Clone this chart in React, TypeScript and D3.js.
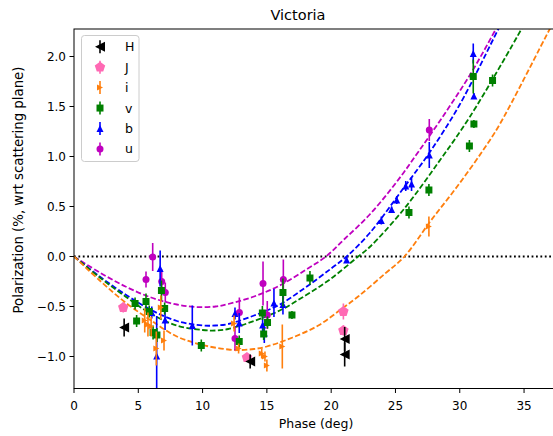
import * as d3 from "d3";

// observations per filter: phase (deg), polarization (%), error
const hX = [3.9, 13.7, 21.05, 21.05];
const hY = [-0.71, -1.05, -0.825, -0.98];
const hE = [0.09, 0.07, 0.12, 0.12];

const jX = [3.83, 13.45, 20.95, 20.95];
const jY = [-0.51, -1.01, -0.55, -0.74];
const jE = [0.05, 0.04, 0.08, 0.05];

const iX = [5.5, 5.75, 6.0, 6.4, 6.75, 7.0, 12.45, 12.8, 14.6, 14.85, 15.0, 16.2, 27.6];
const iY = [-0.64, -0.68, -0.7, -0.92, -0.51, -0.84, -0.67, -0.92, -0.97, -1.0, -1.09, -0.9, 0.3];
const iE = [0.12, 0.12, 0.1, 0.17, 0.12, 0.1, 0.08, 0.05, 0.05, 0.05, 0.06, 0.22, 0.1];

const vX = [4.75, 4.87, 5.6, 5.85, 6.15, 6.45, 6.8, 7.05, 9.9, 12.85, 14.65, 14.75, 15.05, 16.25, 16.95, 18.35, 26.05, 27.6, 30.75, 31.1, 31.05, 32.55];
const vY = [-0.47, -0.645, -0.45, -0.55, -0.76, -0.785, -0.34, -0.52, -0.89, -0.85, -0.565, -0.775, -0.66, -0.36, -0.585, -0.215, 0.44, 0.665, 1.105, 1.325, 1.8, 1.76];
const vE = [0.06, 0.06, 0.08, 0.06, 0.07, 0.07, 0.1, 0.06, 0.06, 0.06, 0.07, 0.06, 0.06, 0.14, 0.04, 0.07, 0.06, 0.06, 0.06, 0.04, 0.17, 0.06];

const bX = [6.05, 6.43, 6.7, 7.08, 9.2, 12.52, 12.85, 14.67, 14.8, 15.55, 16.25, 21.2, 23.9, 24.7, 25.1, 25.8, 26.25, 27.63, 31.05, 31.1];
const bY = [-0.56, -0.995, -0.12, -0.635, -0.69, -0.57, -0.665, -0.685, -0.765, -0.465, -0.48, -0.035, 0.36, 0.47, 0.565, 0.705, 0.725, 1.015, 2.03, 1.605];
const bE = [0.06, 0.4, 0.18, 0.1, 0.2, 0.06, 0.1, 0.1, 0.1, 0.14, 0.1, 0.03, 0.04, 0.03, 0.04, 0.05, 0.07, 0.13, 0.1, 0.03];

const uX = [5.6, 6.12, 6.82, 7.1, 12.52, 12.86, 14.7, 15.03, 16.28, 27.63];
const uY = [-0.23, -0.005, -0.25, -0.36, -0.82, -0.56, -0.27, -0.585, -0.23, 1.265];
const uE = [0.08, 0.14, 0.12, 0.1, 0.12, 0.15, 0.22, 0.14, 0.2, 0.11];

// fitted phase curves
const fitU = [[0, 0], [2, -0.16], [4, -0.3], [6, -0.41], [8, -0.48], [9.5, -0.505], [11, -0.5], [12, -0.475], [14, -0.4], [16, -0.29], [18, -0.135], [19.6, 0], [21, 0.17], [23, 0.42], [25, 0.73], [26.8, 1.05], [29, 1.46], [31, 1.86], [33, 2.32]];
const fitB = [[0, 0], [2, -0.2], [4, -0.38], [6, -0.535], [8, -0.645], [10, -0.69], [11, -0.69], [12, -0.675], [14, -0.59], [16, -0.48], [18, -0.31], [20, -0.12], [21.2, 0], [23, 0.235], [25.6, 0.68], [27.6, 1.03], [30, 1.52], [33, 2.275], [33.3, 2.35]];
const fitV = [[0, 0], [2, -0.21], [4, -0.4], [6, -0.575], [8, -0.69], [10, -0.735], [11, -0.74], [12, -0.725], [14, -0.645], [16, -0.54], [18, -0.39], [20, -0.22], [22.1, 0], [23, 0.095], [25.6, 0.465], [28.5, 0.97], [30.8, 1.4], [34.8, 2.275], [35.1, 2.35]];
const fitI = [[0, 0], [2, -0.24], [4, -0.46], [6, -0.64], [8, -0.8], [10, -0.885], [12, -0.93], [13, -0.935], [14, -0.925], [15, -0.9], [17, -0.81], [19, -0.69], [20.7, -0.535], [22.1, -0.4], [24.2, -0.17], [25.7, 0], [27.7, 0.35], [29.8, 0.7], [31.8, 1.06], [33.1, 1.32], [37, 2.275], [37.4, 2.37]];

const xTicks = [0, 5, 10, 15, 20, 25, 30, 35];
const yTicks = [-1.0, -0.5, 0.0, 0.5, 1.0, 1.5, 2.0];

const W = 553;
const H = 436;
const left = 74, right = 553.5, top = 29, bottom = 388.5;
const font = "DejaVu Sans, sans-serif";

const x = d3.scaleLinear().domain([0, 37.29]).range([left, right]);
const y = d3.scaleLinear().domain([-1.32, 2.275]).range([bottom, top]);

// marker paths centred on 0,0
function marker(kind, s) {
  const r = s / 2;
  switch (kind) {
    case "left": return `M${-r},0L${r},${-r}L${r},${r}Z`;
    case "right": return `M${r},0L${-r},${-r}L${-r},${r}Z`;
    case "up": return `M0,${-r}L${r},${r}L${-r},${r}Z`;
    case "square": return `M${-r},${-r}H${r}V${r}H${-r}Z`;
    case "pent": {
      const pts = d3.range(5).map(k => {
        const a = -Math.PI / 2 + k * 2 * Math.PI / 5;
        return [r * Math.cos(a), r * Math.sin(a)];
      });
      return "M" + pts.map(p => p.join(",")).join("L") + "Z";
    }
    default: return d3.symbol(d3.symbolCircle, Math.PI * r * r)();
  }
}

const series = [
  { label: "H", xs: hX, ys: hY, es: hE, color: "#000000", kind: "left", size: 10 },
  { label: "J", xs: jX, ys: jY, es: jE, color: "#ff69b4", kind: "pent", size: 11 },
  { label: "i", xs: iX, ys: iY, es: iE, color: "#ff7f0e", kind: "right", size: 6 },
  { label: "v", xs: vX, ys: vY, es: vE, color: "#008000", kind: "square", size: 7 },
  { label: "b", xs: bX, ys: bY, es: bE, color: "#0000ff", kind: "up", size: 7 },
  { label: "u", xs: uX, ys: uY, es: uE, color: "#bf00bf", kind: "circle", size: 7 },
];

const fits = [
  { pts: fitU, color: "#bf00bf" },
  { pts: fitB, color: "#0000ff" },
  { pts: fitV, color: "#008000" },
  { pts: fitI, color: "#ff7f0e" },
];

export default function App() {
  const line = d3.line().x(d => x(d[0])).y(d => y(d[1])).curve(d3.curveCatmullRom.alpha(0.5));

  return (
    <svg width={W} height={H} style={{ position: "absolute", left: 0, top: 0 }} fontFamily={font}>
      <defs>
        <clipPath id="plot">
          <rect x={left} y={top} width={right - left} height={bottom - top} />
        </clipPath>
      </defs>
      <rect width={W} height={H} fill="white" />

      <g clipPath="url(#plot)">
        <line x1={left} x2={right} y1={y(0)} y2={y(0)} stroke="black" strokeWidth={1.8} strokeDasharray="1.8,2.6" />
        {fits.map((f, k) => (
          <path key={k} d={line(f.pts)} fill="none" stroke={f.color} strokeWidth={1.8} strokeDasharray="5.5,2.4" />
        ))}
        {series.slice().reverse().map(s => (
          <g key={s.label}>
            {s.xs.map((xv, k) => (
              <g key={k}>
                <line x1={x(xv)} x2={x(xv)} y1={y(s.ys[k] - s.es[k])} y2={y(s.ys[k] + s.es[k])} stroke={s.color} strokeWidth={1.6} />
                <path d={marker(s.kind, s.size)} transform={`translate(${x(xv)},${y(s.ys[k])})`} fill={s.color} />
              </g>
            ))}
          </g>
        ))}
      </g>

      {/* spines */}
      <rect x={left} y={top} width={right - left} height={bottom - top} fill="none" stroke="black" strokeWidth={1} />

      {xTicks.map(t => (
        <g key={t}>
          <line x1={x(t)} x2={x(t)} y1={bottom} y2={bottom + 4.5} stroke="black" strokeWidth={1} />
          <text x={x(t)} y={bottom + 21} textAnchor="middle" fontSize={12}>{t}</text>
        </g>
      ))}
      {yTicks.map(t => (
        <g key={t}>
          <line x1={left - 4.5} x2={left} y1={y(t)} y2={y(t)} stroke="black" strokeWidth={1} />
          <text x={left - 8} y={y(t) + 4.3} textAnchor="end" fontSize={12}>{d3.format(".1f")(t).replace("-", "\u2212")}</text>
        </g>
      ))}

      <text x={298} y={20} textAnchor="middle" fontSize={14.5}>Victoria</text>
      <text x={316} y={428} textAnchor="middle" fontSize={12.5}>Phase (deg)</text>
      <text transform={`translate(23,190) rotate(-90)`} textAnchor="middle" fontSize={13.3}>
        Polarization (%, wrt scattering plane)
      </text>

      {/* legend */}
      <rect x={81.5} y={35.5} width={57.5} height={126} rx={3} fill="white" fillOpacity={0.8} stroke="#cccccc" strokeWidth={1} />
      {series.map((s, k) => {
        const cy = 46.7 + k * 20.45;
        return (
          <g key={s.label}>
            <line x1={100} x2={100} y1={cy - 6.5} y2={cy + 6.5} stroke={s.color} strokeWidth={1.6} />
            <path d={marker(s.kind, s.size)} transform={`translate(100,${cy})`} fill={s.color} />
            <text x={125} y={cy + 4.5} fontSize={12.5}>{s.label}</text>
          </g>
        );
      })}
    </svg>
  );
}
